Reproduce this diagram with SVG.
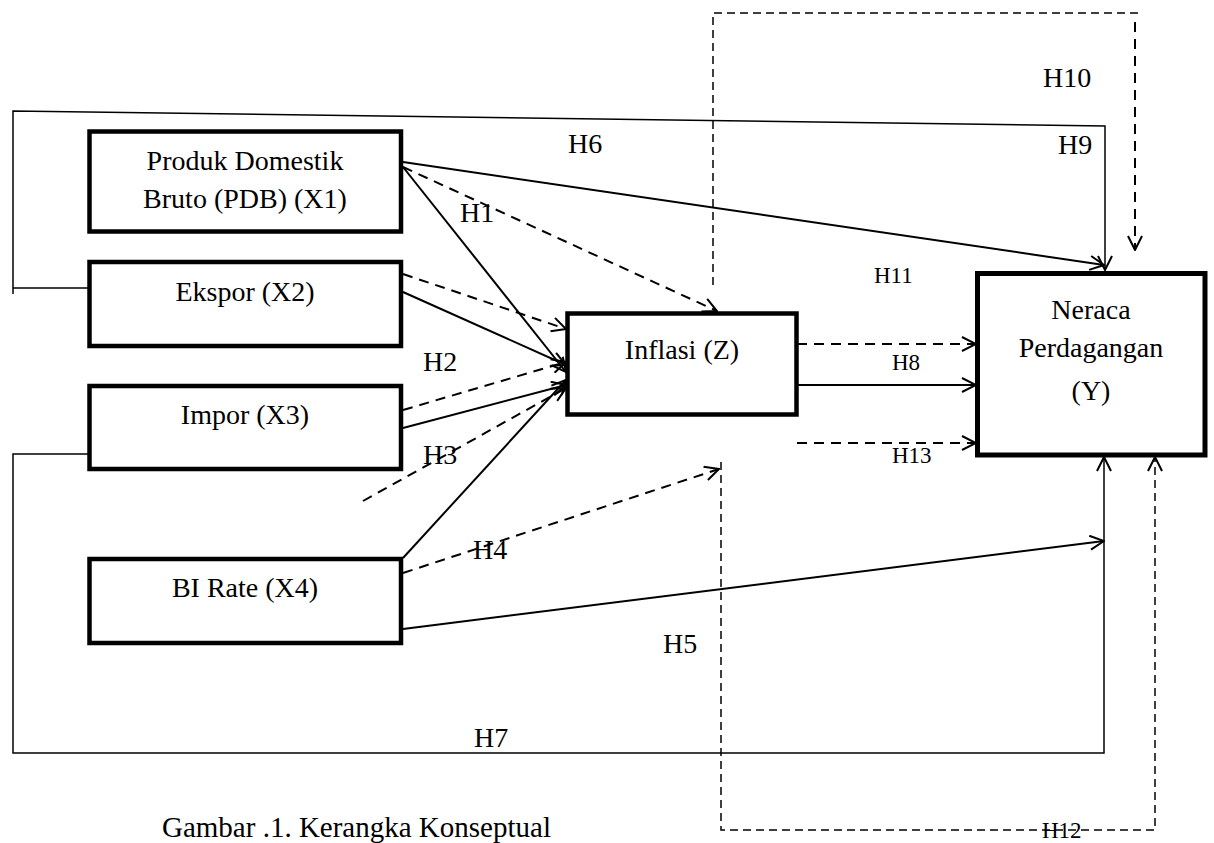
<svg xmlns="http://www.w3.org/2000/svg" width="1214" height="843" viewBox="0 0 1214 843">
<style>
text{font-family:"Liberation Serif","Times New Roman",serif;fill:#000}
.n{font-size:28px;text-anchor:middle}
.h{font-size:28px}
.s{font-size:23px}
.box{fill:#fff;stroke:#000;stroke-width:4.5}
.c{fill:none;stroke:#000;stroke-width:2}
.t{fill:none;stroke:#000;stroke-width:1.5}
.d{fill:none;stroke:#000;stroke-width:2;stroke-dasharray:10 7}
.dt{fill:none;stroke:#000;stroke-width:1.5;stroke-dasharray:8 5}
</style>
<defs>
<marker id="a" viewBox="0 0 16 16" refX="15" refY="8" markerWidth="16" markerHeight="16" markerUnits="userSpaceOnUse" orient="auto">
<path d="M1,1 L15,8 L1,15" fill="none" stroke="#000" stroke-width="2"/>
</marker>
</defs>
<rect width="1214" height="843" fill="#fff"/>
<g id="connectors">
<path class="t" d="M88,288 H13 M13,294 V111 L1105,126 V270" marker-end="url(#a)"/>
<path class="t" d="M88,454 H13 V753 H1104 V457" marker-end="url(#a)"/>
<path class="c" d="M403,629 L1104,541" marker-end="url(#a)"/>
<path class="c" d="M403,162 L1104,265" marker-end="url(#a)"/>
<path class="dt" d="M713,285 V13 H1140"/>
<path class="d" d="M1135,22 V250" marker-end="url(#a)"/>
<path class="d" d="M403,167 L717,311" marker-end="url(#a)"/>
<path class="c" d="M403,167 L566,372" marker-end="url(#a)"/>
<path class="d" d="M403,274 L566,329" marker-end="url(#a)"/>
<path class="c" d="M403,292 L566,365" marker-end="url(#a)"/>
<path class="d" d="M403,410 L566,362" marker-end="url(#a)"/>
<path class="c" d="M403,428 L566,385" marker-end="url(#a)"/>
<path class="d" d="M363,501 L566,388" marker-end="url(#a)"/>
<path class="c" d="M403,558 L566,380" marker-end="url(#a)"/>
<path class="d" d="M403,573 L719,469" marker-end="url(#a)"/>
<path class="dt" d="M721,462 V830 H1155 V457" marker-end="url(#a)"/>
<path class="d" d="M797,344 H976" marker-end="url(#a)"/>
<path class="c" d="M797,385 H976" marker-end="url(#a)"/>
<path class="d" d="M797,443 H976" marker-end="url(#a)"/>
</g>
<g id="x1"><rect class="box" x="89.5" y="131.5" width="311.5" height="100"/>
<text class="n" x="245" y="170">Produk Domestik</text><text class="n" x="245" y="208">Bruto (PDB) (X1)</text></g>
<g id="x2"><rect class="box" x="89.5" y="262" width="311.5" height="84"/>
<text class="n" x="245" y="301">Ekspor (X2)</text></g>
<g id="x3"><rect class="box" x="89.5" y="386" width="311.5" height="83"/>
<text class="n" x="245" y="424">Impor (X3)</text></g>
<g id="x4"><rect class="box" x="89.5" y="559" width="311.5" height="84"/>
<text class="n" x="245" y="597">BI Rate (X4)</text></g>
<g id="z"><rect class="box" x="567.5" y="313.5" width="229" height="101"/>
<text class="n" x="682" y="359">Inflasi (Z)</text></g>
<g id="y"><rect class="box" x="977.5" y="273.5" width="227.5" height="181.5" style="stroke-width:5"/>
<text class="n" x="1091" y="319">Neraca</text><text class="n" x="1091" y="357">Perdagangan</text><text class="n" x="1091" y="400">(Y)</text></g>
<g id="labels">
<text class="h" x="460" y="222">H1</text>
<text class="h" x="423" y="371">H2</text>
<text class="h" x="423" y="464">H3</text>
<text class="h" x="473" y="559">H4</text>
<text class="h" x="663" y="653">H5</text>
<text class="h" x="568" y="153">H6</text>
<text class="h" x="474" y="747">H7</text>
<text class="s" x="892" y="370">H8</text>
<text class="h" x="1058" y="154">H9</text>
<text class="h" x="1043" y="87">H10</text>
<text class="s" x="874" y="283">H11</text>
<text class="s" x="1042" y="838">H12</text>
<text class="s" x="892" y="463">H13</text>
<text style="font-size:29px" x="162" y="837">Gambar .1. Kerangka Konseptual</text>
</g>
</svg>
